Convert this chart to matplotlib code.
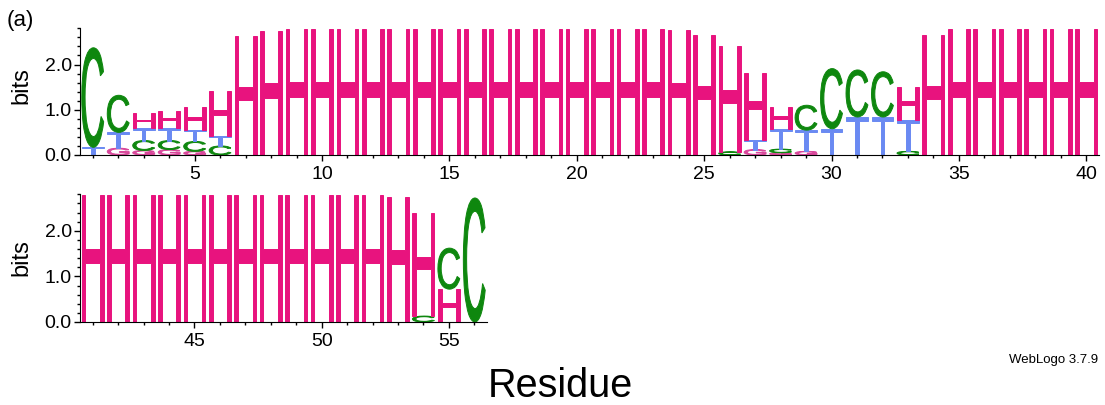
import numpy as np
import matplotlib
matplotlib.use("Agg")
import matplotlib.pyplot as plt
from matplotlib.font_manager import FontProperties
from matplotlib.patches import PathPatch
from matplotlib.textpath import TextPath
from matplotlib.transforms import Affine2D
from matplotlib.ticker import MultipleLocator

plt.rcParams["font.family"] = ["Liberation Sans", "DejaVu Sans"]

# residue positions 1..56, information (bits) carried by each symbol
positions = list(range(1, 57))

H_bits = [0.0, 0.0, 0.33, 0.38, 0.50, 1.00, 2.62, 2.74,
          2.78, 2.78, 2.78, 2.78, 2.78, 2.78, 2.78, 2.78,
          2.78, 2.78, 2.78, 2.78, 2.78, 2.78, 2.78, 2.76,
          2.66, 2.35, 1.47, 0.50, 0.0, 0.0, 0.0, 0.0,
          0.72, 2.65, 2.78, 2.78, 2.78, 2.78, 2.78, 2.78,
          2.78, 2.78, 2.78, 2.78, 2.78, 2.78, 2.78, 2.78,
          2.78, 2.78, 2.78, 2.78, 2.74, 2.25, 0.72, 0.0]

C_bits = [2.20, 0.82, 0.22, 0.20, 0.22, 0.20, 0.0, 0.0,
          0.0, 0.0, 0.0, 0.0, 0.0, 0.0, 0.0, 0.0,
          0.0, 0.0, 0.0, 0.0, 0.0, 0.0, 0.0, 0.0,
          0.0, 0.07, 0.0, 0.08, 0.55, 1.33, 1.04, 1.00,
          0.08, 0.0, 0.0, 0.0, 0.0, 0.0, 0.0, 0.0,
          0.0, 0.0, 0.0, 0.0, 0.0, 0.0, 0.0, 0.0,
          0.0, 0.0, 0.0, 0.0, 0.0, 0.13, 0.90, 2.72]

T_bits = [0.17, 0.35, 0.27, 0.27, 0.25, 0.22, 0.0, 0.0,
          0.0, 0.0, 0.0, 0.0, 0.0, 0.0, 0.0, 0.0,
          0.0, 0.0, 0.0, 0.0, 0.0, 0.0, 0.0, 0.0,
          0.0, 0.0, 0.22, 0.44, 0.47, 0.58, 0.84, 0.84,
          0.70, 0.0, 0.0, 0.0, 0.0, 0.0, 0.0, 0.0,
          0.0, 0.0, 0.0, 0.0, 0.0, 0.0, 0.0, 0.0,
          0.0, 0.0, 0.0, 0.0, 0.0, 0.0, 0.0, 0.0]

G_bits = [0.0, 0.15, 0.10, 0.12, 0.08, 0.0, 0.0, 0.0,
          0.0, 0.0, 0.0, 0.0, 0.0, 0.0, 0.0, 0.0,
          0.0, 0.0, 0.0, 0.0, 0.0, 0.0, 0.0, 0.0,
          0.0, 0.0, 0.12, 0.05, 0.08, 0.0, 0.0, 0.0,
          0.0, 0.0, 0.0, 0.0, 0.0, 0.0, 0.0, 0.0,
          0.0, 0.0, 0.0, 0.0, 0.0, 0.0, 0.0, 0.0,
          0.0, 0.0, 0.0, 0.0, 0.0, 0.0, 0.0, 0.0]

symbol_bits = {"H": H_bits, "C": C_bits, "T": T_bits, "G": G_bits}
symbol_colors = {"H": "#E8137E", "C": "#0E870E", "T": "#6A8AF2", "G": "#D9479B"}

LOGO_FONT = FontProperties(family="Liberation Sans", weight="normal")
MAX_BITS = np.log2(7)
W, H = 1105, 405


def draw_letter(ax, letter, x, y0, height, color, width=0.86):
    """Stretch a glyph to fill the box [x-width/2, x+width/2] x [y0, y0+height]."""
    tp = TextPath((0, 0), letter, size=1, prop=LOGO_FONT)
    bb = tp.get_extents()
    tr = (Affine2D().translate(-bb.x0, -bb.y0)
          .scale(width / bb.width, height / bb.height)
          .translate(x - width / 2, y0))
    # thin outline in the fill colour thickens the strokes a little
    ax.add_patch(PathPatch(tr.transform_path(tp), fc=color, ec=color, lw=0.7))


def draw_logo(ax, first, last):
    for i, pos in enumerate(positions):
        if pos < first or pos > last:
            continue
        stack = sorted(((symbol_bits[s][i], s) for s in symbol_bits), key=lambda t: t[0])
        y = 0.0
        for bits, s in stack:
            if bits <= 0:
                continue
            draw_letter(ax, s, pos, y, bits, symbol_colors[s])
            y += bits
    ax.set_xlim(first - 0.5, last + 0.5)
    ax.set_ylim(0, MAX_BITS)
    for side in ("top", "right"):
        ax.spines[side].set_visible(False)
    ax.xaxis.set_major_locator(MultipleLocator(5))
    ax.xaxis.set_minor_locator(MultipleLocator(1))
    ax.yaxis.set_major_locator(MultipleLocator(1))
    ax.yaxis.set_minor_locator(MultipleLocator(0.2))
    ax.yaxis.set_major_formatter(lambda v, p: f"{v:.1f}")
    ax.tick_params(which="major", length=4, width=1, labelsize=14)
    ax.tick_params(which="minor", length=2.5, width=1)
    ax.tick_params(axis="x", which="major", pad=4)
    ax.tick_params(axis="y", which="major", pad=2)
    ax.set_ylabel("bits", fontsize=17)


fig = plt.figure(figsize=(W / 100, H / 100), dpi=100)
ax1 = fig.add_axes([80 / W, 1 - 155 / H, (1099 - 80) / W, (155 - 28) / H])
ax2 = fig.add_axes([80 / W, 1 - 322 / H, (487 - 80) / W, (322 - 194) / H])

draw_logo(ax1, 1, 40)
draw_logo(ax2, 41, 56)
ax1.yaxis.set_label_coords((32 - 80) / (1099 - 80), 0.55)
ax2.yaxis.set_label_coords((32 - 80) / (487 - 80), 0.5)

fig.text(7 / W, 1 - 26 / H, "(a)", fontsize=16, va="baseline")
fig.text(560 / W, 1 - 397 / H, "Residue", fontsize=28.5, ha="center", va="baseline")
fig.text(1098 / W, 1 - 363 / H, "WebLogo 3.7.9", fontsize=9.5, ha="right", va="baseline")

fig.savefig("out.png", dpi=100)
